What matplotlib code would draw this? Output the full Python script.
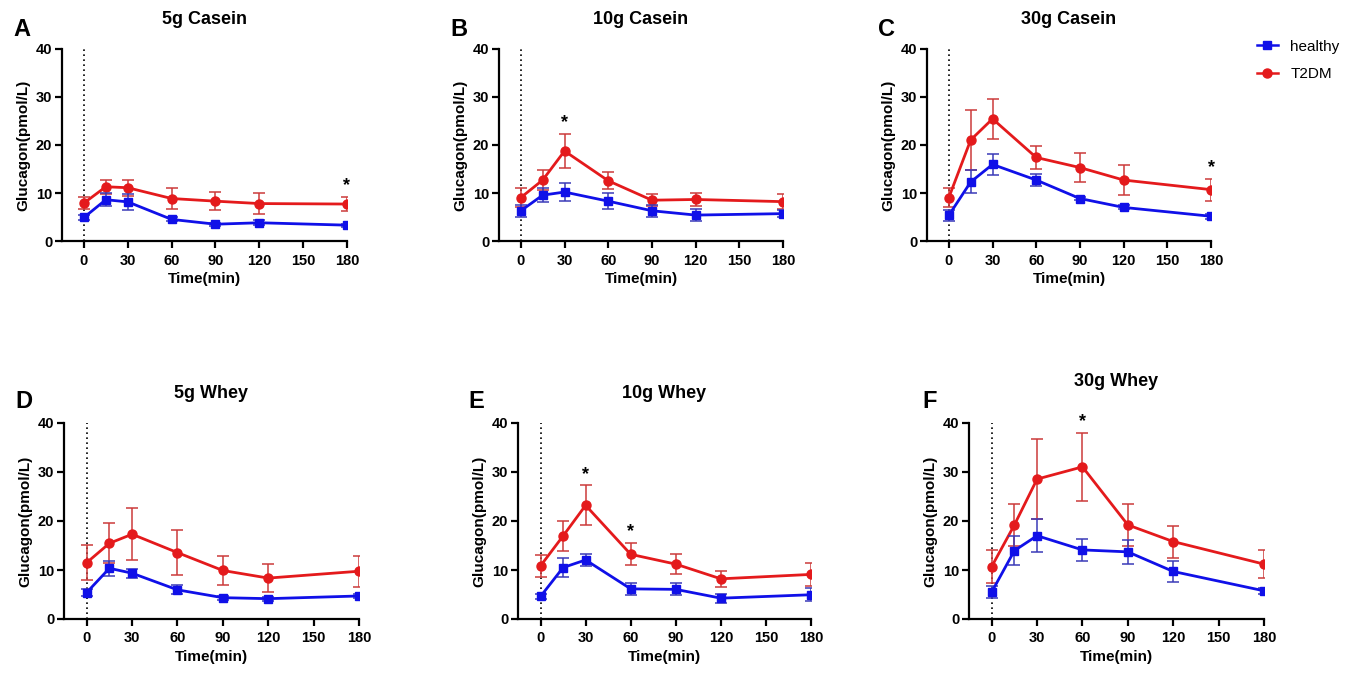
import matplotlib
matplotlib.use("Agg")
import matplotlib.pyplot as plt
from matplotlib.lines import Line2D

plt.rcParams['font.family'] = ['Liberation Sans', 'DejaVu Sans']

time = [0, 15, 30, 60, 90, 120, 180]
titles = ["5g Casein", "10g Casein", "30g Casein", "5g Whey", "10g Whey", "30g Whey"]
letters = ["A", "B", "C", "D", "E", "F"]

healthy_mean = [
    [4.9, 8.6, 8.15, 4.5, 3.5, 3.8, 3.3],
    [6.3, 9.55, 10.2, 8.3, 6.3, 5.4, 5.7],
    [5.35, 12.3, 15.95, 12.7, 8.85, 7.0, 5.15],
    [5.4, 10.35, 9.35, 5.95, 4.35, 4.15, 4.7],
    [4.6, 10.5, 12.05, 6.15, 6.05, 4.25, 4.95],
    [5.5, 13.95, 17.0, 14.1, 13.7, 9.7, 5.75],
]
healthy_err = [
    [0.6, 1.3, 1.7, 0.4, 0.3, 0.5, 0.3],
    [1.3, 1.5, 1.8, 1.6, 1.2, 1.3, 0.8],
    [1.2, 2.4, 2.2, 1.3, 0.4, 0.4, 0.5],
    [0.8, 1.55, 0.9, 0.9, 0.4, 0.4, 0.4],
    [0.6, 1.85, 1.3, 1.15, 1.2, 0.9, 1.3],
    [1.2, 3.0, 3.4, 2.25, 2.4, 2.15, 0.6],
]
t2dm_mean = [
    [7.9, 11.3, 11.1, 8.85, 8.3, 7.8, 7.7],
    [9.05, 12.7, 18.75, 12.55, 8.5, 8.65, 8.2],
    [9.05, 21.05, 25.45, 17.4, 15.3, 12.7, 10.7],
    [11.5, 15.45, 17.3, 13.55, 9.9, 8.35, 9.75],
    [10.85, 16.95, 23.2, 13.2, 11.2, 8.2, 9.1],
    [10.7, 19.2, 28.55, 31.05, 19.2, 15.8, 11.2],
]
t2dm_err = [
    [1.3, 1.5, 1.7, 2.2, 1.9, 2.2, 1.5],
    [1.9, 2.1, 3.5, 1.75, 1.2, 1.45, 1.6],
    [1.9, 6.2, 4.1, 2.4, 3.1, 3.1, 2.3],
    [3.6, 4.1, 5.3, 4.6, 3.05, 2.85, 3.2],
    [2.2, 3.1, 4.05, 2.25, 2.1, 1.6, 2.4],
    [3.4, 4.25, 8.1, 6.9, 4.25, 3.25, 2.8],
]
# time points with significance marks (*)
sig_times = [[180], [30], [180], [], [30, 60], [60]]

W, H = 1348, 673
# axes boxes in pixels: left, right, top, bottom
boxes = [
    (62, 347, 49, 241),
    (499, 783, 49, 241),
    (927, 1211, 49, 241),
    (64, 359, 423, 619),
    (518, 811, 423, 619),
    (969, 1264, 423, 619),
]
title_y = [19, 19, 19, 393, 393, 382]
letter_pos = [(13, 29), (450, 29), (878, 29), (15, 402), (468, 402), (922, 401)]

blue = '#1010e8'
blue_err = '#3a3ab8'
red = '#e41a1c'
red_err = '#cc3a3a'

fig = plt.figure(figsize=(W / 100, H / 100), dpi=100)

for i in range(6):
    l, r, t, b = boxes[i]
    ax = fig.add_axes([l / W, 1 - b / H, (r - l) / W, (b - t) / H])
    ax.axvline(0, ymin=0, ymax=1, color='black', linestyle=(0, (1, 2)), linewidth=1.2, zorder=1)
    ax.errorbar(time, t2dm_mean[i], yerr=t2dm_err[i], color=red, ecolor=red_err,
                elinewidth=1.1, capsize=4, capthick=1.1, marker='o', markersize=6.5,
                linewidth=2.0, zorder=3)
    ax.errorbar(time, healthy_mean[i], yerr=healthy_err[i], color=blue, ecolor=blue_err,
                elinewidth=1.1, capsize=4, capthick=1.1, marker='s', markersize=6,
                linewidth=2.0, zorder=4)
    for st in sig_times[i]:
        k = time.index(st)
        ytop = t2dm_mean[i][k] + t2dm_err[i][k]
        ax.annotate('*', (st, ytop), xytext=(0, 2), textcoords='offset points',
                    ha='center', va='bottom', fontsize=13, fontweight='bold')
    ax.set_xlim(-15, 180)
    ax.set_ylim(0, 40)
    ax.set_xticks([0, 30, 60, 90, 120, 150, 180])
    ax.set_yticks([0, 10, 20, 30, 40])
    for s in ['top', 'right']:
        ax.spines[s].set_visible(False)
    for s in ['left', 'bottom']:
        ax.spines[s].set_linewidth(1.6)
    ax.tick_params(axis='both', direction='out', length=5, width=1.6, labelsize=10.5)
    ax.tick_params(axis='y', pad=2)
    ax.tick_params(axis='x', pad=4)
    for lab in ax.get_xticklabels() + ax.get_yticklabels():
        lab.set_fontweight('bold')
    ax.set_xlabel('Time(min)', fontsize=11, fontweight='bold', labelpad=3)
    ax.set_ylabel('Glucagon(pmol/L)', fontsize=11, fontweight='bold', labelpad=4)
    fig.text(((l + r) / 2) / W, 1 - title_y[i] / H, titles[i], ha='center', va='center',
             fontsize=13, fontweight='bold')
    lx, ly = letter_pos[i]
    fig.text(lx / W, 1 - ly / H, letters[i], ha='left', va='center',
             fontsize=17, fontweight='bold')

handles = [
    Line2D([], [], color=blue, marker='s', markersize=6, linewidth=1.8),
    Line2D([], [], color=red, marker='o', markersize=6.5, linewidth=1.8),
]
fig.legend(handles, ['healthy', 'T2DM'], loc='upper left',
           bbox_to_anchor=(1243 / W, 1 - 26 / H), frameon=False, fontsize=11,
           handlelength=1.4, handletextpad=0.8, labelspacing=0.9)

fig.savefig('out.png', dpi=100)
